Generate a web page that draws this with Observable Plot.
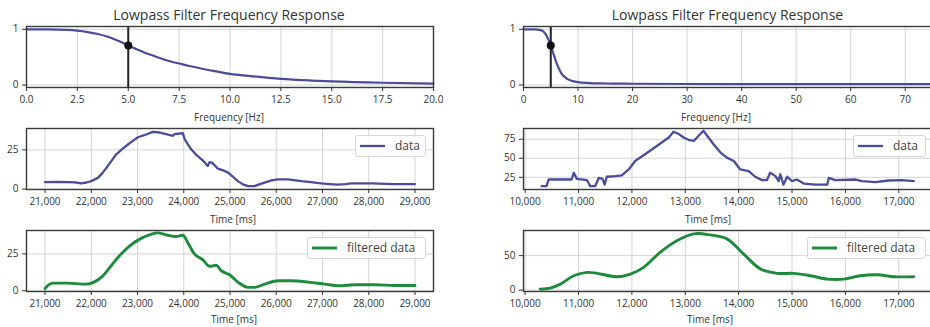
<!DOCTYPE html>
<html><head><meta charset="utf-8">
<script src="https://cdn.jsdelivr.net/npm/d3@7"></script>
<script src="https://cdn.jsdelivr.net/npm/@observablehq/plot@0.6"></script>
<style>
body{margin:0;background:#fff;}
#root{position:relative;width:930px;height:327px;overflow:hidden;font-family:"Open Sans",sans-serif;color:#333;background:#fff;}
.title{position:absolute;font-size:14px;transform:translate(-50%,-50%);white-space:nowrap;line-height:1;color:#333;z-index:5;}
.xlabel{position:absolute;font-size:10px;transform:translate(-50%,-50%);white-space:nowrap;line-height:1;color:#333;z-index:5;}
.legend{position:absolute;border:1px solid #d6d6d6;border-radius:3px;background:rgba(255,255,255,0.85);box-sizing:border-box;z-index:6;font-size:12px;color:#444;}
.legend svg{position:absolute;left:4px;top:50%;margin-top:-2px;}
.legend span{position:absolute;left:39px;top:50%;transform:translateY(-52%);white-space:nowrap;line-height:1;}
</style></head>
<body>
<div id="root"></div>
<script>
// ---- data ----
const cutoffHz = 5;
const cutoffGain = 0.71;

const respFreqLeft = [0, 1, 2, 2.5, 3, 3.5, 4, 4.5, 5, 5.5, 6, 6.5, 7, 7.5, 8, 9, 10, 11, 12.5, 14, 15, 17.5, 20];
const respGainLeft = [1, 1, 0.99, 0.975, 0.95, 0.915, 0.865, 0.795, 0.71, 0.63, 0.555, 0.49, 0.43, 0.385, 0.34, 0.265, 0.2, 0.16, 0.11, 0.08, 0.065, 0.04, 0.025];

const respFreqRight = [0, 2, 3, 3.5, 4, 4.5, 5, 5.5, 6, 6.5, 7, 7.5, 8, 9, 10, 12, 15, 20, 30, 50, 75];
const respGainRight = [1, 1, 0.99, 0.97, 0.92, 0.83, 0.71, 0.56, 0.41, 0.29, 0.2, 0.15, 0.11, 0.07, 0.05, 0.035, 0.027, 0.022, 0.018, 0.016, 0.015];

const timeLeft = [21000, 21250, 21500, 21650, 21780, 21900, 22000, 22150, 22250, 22360, 22450, 22540, 22650, 22800, 22900, 23000, 23100, 23200, 23330, 23480, 23550, 23620, 23700, 23760, 23800, 23880, 23980, 24020, 24100, 24160, 24250, 24340, 24430, 24520, 24560, 24610, 24680, 24740, 24850, 24960, 25060, 25170, 25280, 25390, 25530, 25650, 25780, 25900, 26040, 26250, 26540, 26750, 26970, 27150, 27330, 27500, 27620, 28050, 28550, 29000];
const dataLeft = [4.5, 4.6, 4.5, 4.3, 3.6, 4.2, 5.1, 7.3, 10.5, 14.8, 18.5, 22.2, 25, 28.6, 30.8, 32.9, 34, 35, 36.5, 36.1, 35.5, 35, 34.5, 34, 35, 35.3, 35.7, 31.8, 28, 25.4, 22.5, 20.1, 17.8, 14.8, 17.2, 16.9, 14.8, 13, 12, 10.5, 8, 5.1, 3, 1.9, 1.9, 3.2, 4.5, 5.5, 6.2, 6.2, 5.1, 4.5, 3.6, 3.2, 2.8, 3.2, 3.6, 3.6, 3.2, 3.2];

const filtTimeLeft = [21000, 21060, 21170, 21490, 21880, 22060, 22240, 22420, 22600, 22820, 23070, 23290, 23430, 23650, 23830, 23980, 24090, 24230, 24410, 24560, 24700, 24810, 24990, 25170, 25390, 25530, 25750, 26040, 26320, 26690, 27050, 27370, 27690, 28130, 28560, 29000];
const filtLeft = [1.4, 3.6, 5.2, 5.2, 4.5, 5.9, 9.8, 16.6, 23.4, 30.2, 35.4, 38.2, 39.3, 37.7, 36.8, 37.7, 32.5, 25, 21.1, 16.6, 17.3, 13.6, 10.9, 5.9, 2.3, 2.3, 4.5, 6.8, 6.8, 5.9, 4.5, 3.4, 4.1, 4.1, 3.6, 3.6];

const timeRight = [10310, 10400, 10440, 10870, 10910, 10970, 11160, 11220, 11310, 11380, 11450, 11490, 11530, 11690, 11810, 11940, 12060, 12220, 12380, 12560, 12690, 12780, 12880, 12970, 13060, 13160, 13220, 13340, 13410, 13530, 13660, 13780, 13910, 14030, 14190, 14310, 14440, 14530, 14590, 14690, 14750, 14780, 14840, 14910, 15000, 15090, 15220, 15440, 15660, 15690, 15810, 16190, 16310, 16560, 16810, 17060, 17280];
const dataRight = [13.3, 13.3, 22.1, 22.1, 31, 22.9, 21.2, 13.3, 13.3, 24.3, 23, 15.5, 25.7, 26.5, 27.4, 35.3, 46.4, 53.9, 61.8, 70.6, 77.2, 84.8, 81.7, 77.2, 74.2, 72.8, 77.2, 86.1, 79.5, 68.4, 57.4, 50.8, 46.4, 35.3, 33.2, 25.7, 21.3, 21.3, 31, 26.5, 20, 29, 15.5, 25.7, 20, 22.1, 16.8, 15.5, 15.5, 24.3, 21.3, 22.1, 20, 18.6, 20.8, 21.3, 20];

const filtTimeRight = [10280, 10470, 10660, 10910, 11160, 11350, 11720, 11970, 12220, 12530, 12850, 13160, 13470, 13780, 14090, 14410, 14720, 15030, 15350, 15660, 15970, 16280, 16600, 16910, 17280];
const filtRight = [1.5, 2.9, 8.7, 20.8, 25.7, 24.3, 19.4, 23.3, 33, 54.8, 71.9, 81.6, 80, 74.3, 52.5, 30.6, 24.3, 24.3, 20.8, 16, 16, 20.8, 22.3, 19.4, 19.4];

const freqTicksLeft = [0, 2.5, 5, 7.5, 10, 12.5, 15, 17.5, 20];
const freqTicksRight = [0, 10, 20, 30, 40, 50, 60, 70];
const timeTicksLeft = [21000, 22000, 23000, 24000, 25000, 26000, 27000, 28000, 29000];
const timeTicksRight = [10000, 11000, 12000, 13000, 14000, 15000, 16000, 17000];
const gainTicks = [0, 1];
const dataTicksLeft = [0, 25];
const filtTicksLeft = [0, 25];
const dataTicksRight = [25, 50, 75];
const filtTicksRight = [0, 50];

const titleText = "Lowpass Filter Frequency Response";
const freqLabel = "Frequency [Hz]";
const timeLabel = "Time [ms]";
const legendData = "data";
const legendFilt = "filtered data";

// ---- styles ----
const BLUE = "#4b4b9b";
const GREEN = "#1d8b3b";

const zip = (xs, ys) => xs.map((x, i) => ({x, y: ys[i]}));
const root = document.getElementById("root");

function panel(o) {
  const p = Plot.plot({
    width: o.width, height: o.height,
    marginLeft: o.mL, marginRight: o.mR, marginTop: o.mT, marginBottom: o.mB,
    x: {domain: o.xDomain, label: null},
    y: {domain: o.yDomain, label: null},
    style: {fontFamily: '"Open Sans", sans-serif', fontSize: "10px", color: "#333", background: "transparent", overflow: "visible"},
    marks: [
      Plot.gridX(o.xTicks, {stroke: "#d4d4d4", strokeOpacity: 1, strokeWidth: 1}),
      Plot.gridY(o.yTicks, {stroke: "#d4d4d4", strokeOpacity: 1, strokeWidth: 1}),
      ...o.marks,
      Plot.frame({stroke: "#3a3a3a", strokeWidth: 1.4}),
      Plot.axisX(o.xTicks, {tickSize: 4, tickPadding: 4, tickFormat: o.xFormat, label: null}),
      Plot.axisY(o.yTicks, {tickSize: 4, tickPadding: 4, tickFormat: o.yFormat, label: null})
    ]
  });
  p.style.position = "absolute";
  p.style.left = o.left + "px";
  p.style.top = o.top + "px";
  p.style.maxWidth = "none";
  root.appendChild(p);
}

function text(cls, str, x, y) {
  const d = document.createElement("div");
  d.className = cls; d.textContent = str;
  d.style.left = x + "px"; d.style.top = y + "px";
  root.appendChild(d);
}

function legend(label, color, width, x, y, w, h) {
  const d = document.createElement("div");
  d.className = "legend";
  d.style.left = x + "px"; d.style.top = y + "px";
  d.style.width = w + "px"; d.style.height = h + "px";
  d.innerHTML = `<svg width="26" height="4"><line x1="0" y1="2" x2="25" y2="2" stroke="${color}" stroke-width="${width}"/></svg><span>${label}</span>`;
  root.appendChild(d);
}

const f1 = d3.format(".1f"), fc = d3.format(","), fd = d3.format("d");

// column geometry
const L = {left: 0, width: 460, mL: 26, mR: 27};
const R = {left: 460, width: 480, mL: 63, mR: 8};
const ROW1 = {top: 0, height: 125, mT: 26, mB: 38};
const ROW2 = {top: 102, height: 125, mT: 26, mB: 38};
const ROW3 = {top: 204, height: 123, mT: 26, mB: 36};

// top-left
panel({...L, ...ROW1, xDomain: [0, 20], yDomain: [-0.045, 1.05], xTicks: freqTicksLeft, yTicks: gainTicks, xFormat: f1, yFormat: fd,
  marks: [
    Plot.line(zip(respFreqLeft, respGainLeft), {x: "x", y: "y", stroke: BLUE, strokeWidth: 2.2, curve: "monotone-x"}),
    Plot.ruleX([cutoffHz], {stroke: "#222", strokeWidth: 2}),
    Plot.dot([{x: cutoffHz, y: cutoffGain}], {x: "x", y: "y", r: 4, fill: "#111", stroke: "none"})
  ]});
// top-right
panel({...R, ...ROW1, xDomain: [0, 75], yDomain: [-0.045, 1.05], xTicks: freqTicksRight, yTicks: gainTicks, xFormat: fd, yFormat: fd,
  marks: [
    Plot.line(zip(respFreqRight, respGainRight), {x: "x", y: "y", stroke: BLUE, strokeWidth: 2.2, curve: "monotone-x"}),
    Plot.ruleX([cutoffHz], {stroke: "#222", strokeWidth: 2}),
    Plot.dot([{x: cutoffHz, y: cutoffGain}], {x: "x", y: "y", r: 4, fill: "#111", stroke: "none"})
  ]});
// middle-left
panel({...L, ...ROW2, xDomain: [20600, 29400], yDomain: [-0.26, 38.65], xTicks: timeTicksLeft, yTicks: dataTicksLeft, xFormat: fc, yFormat: fd,
  marks: [Plot.line(zip(timeLeft, dataLeft), {x: "x", y: "y", stroke: BLUE, strokeWidth: 2.3})]});
// middle-right
panel({...R, ...ROW2, xDomain: [9969, 17632], yDomain: [9, 89], xTicks: timeTicksRight, yTicks: dataTicksRight, xFormat: fc, yFormat: fd,
  marks: [Plot.line(zip(timeRight, dataRight), {x: "x", y: "y", stroke: BLUE, strokeWidth: 2.3})]});
// bottom-left
panel({...L, ...ROW3, xDomain: [20600, 29400], yDomain: [-0.5, 40.9], xTicks: timeTicksLeft, yTicks: filtTicksLeft, xFormat: fc, yFormat: fd,
  marks: [Plot.line(zip(filtTimeLeft, filtLeft), {x: "x", y: "y", stroke: GREEN, strokeWidth: 2.9, curve: "monotone-x"})]});
// bottom-right
panel({...R, ...ROW3, xDomain: [9969, 17632], yDomain: [-2, 86.4], xTicks: timeTicksRight, yTicks: filtTicksRight, xFormat: fc, yFormat: fd,
  marks: [Plot.line(zip(filtTimeRight, filtRight), {x: "x", y: "y", stroke: GREEN, strokeWidth: 2.9, curve: "catmull-rom"})]});

// titles and axis labels
text("title", titleText, 229, 15);
text("title", titleText, 727.5, 15);
text("xlabel", freqLabel, 229, 117);
text("xlabel", freqLabel, 716, 117);
text("xlabel", timeLabel, 233, 219);
text("xlabel", timeLabel, 708, 219);
text("xlabel", timeLabel, 234, 319);
text("xlabel", timeLabel, 710, 319);

// legends
legend(legendData, BLUE, 2.3, 355, 135, 71, 22);
legend(legendFilt, GREEN, 2.9, 307, 237, 119, 22);
legend(legendData, BLUE, 2.3, 853, 135, 73, 22);
legend(legendFilt, GREEN, 2.9, 807, 237, 119, 22);
</script>
</body></html>
